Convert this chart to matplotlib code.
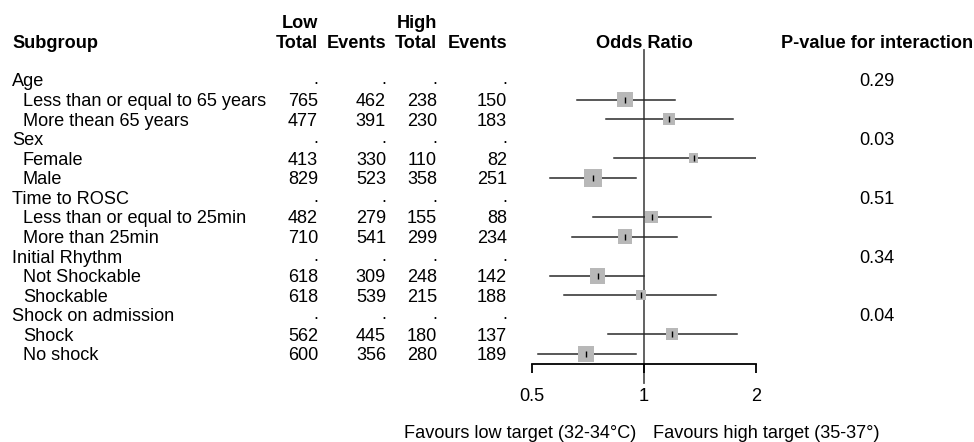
import numpy as np
import matplotlib
matplotlib.use("Agg")
import matplotlib.pyplot as plt

plt.rcParams['font.family'] = ['Liberation Sans', 'DejaVu Sans']

# data
groups = ["Age", "Sex", "Time to ROSC", "Initial Rhythm", "Shock on admission"]
p_interaction = ["0.29", "0.03", "0.51", "0.34", "0.04"]
subgroups = ["Less than or equal to 65 years", "More thean 65 years",
             "Female", "Male",
             "Less than or equal to 25min", "More than 25min",
             "Not Shockable", "Shockable",
             "Shock", "No shock"]
low_total = [765, 477, 413, 829, 482, 710, 618, 618, 562, 600]
low_events = [462, 391, 330, 523, 279, 541, 309, 539, 445, 356]
high_total = [238, 230, 110, 358, 155, 299, 248, 215, 180, 280]
high_events = [150, 183, 82, 251, 88, 234, 142, 188, 137, 189]
odds_ratio = [0.89, 1.17, 1.36, 0.73, 1.05, 0.89, 0.75, 0.98, 1.19, 0.70]
ci_low = [0.66, 0.79, 0.83, 0.56, 0.73, 0.64, 0.56, 0.61, 0.80, 0.52]
ci_high = [1.21, 1.73, 2.22, 0.95, 1.51, 1.23, 1.00, 1.56, 1.78, 0.95]

W, H = 974, 442
fig = plt.figure(figsize=(W / 100, H / 100), dpi=100)
FS = 13.1

def px(x, y):
    return x / W, 1 - y / H

row0 = 80
step = 19.57
txt_dy = 2  # text sits a little lower than the marks

def row_y(i):
    return row0 + step * i

# header
col_right = [318, 386, 437, 507]
fig.text(*px(12, 43), "Subgroup", fontsize=FS, fontweight="bold", va="center")
fig.text(*px(col_right[0], 23), "Low", fontsize=FS, fontweight="bold", va="center", ha="right")
fig.text(*px(col_right[2], 23), "High", fontsize=FS, fontweight="bold", va="center", ha="right")
for xr, lab in zip(col_right, ["Total", "Events", "Total", "Events"]):
    fig.text(*px(xr, 43), lab, fontsize=FS, fontweight="bold", va="center", ha="right")
fig.text(*px(644, 43), "Odds Ratio", fontsize=FS, fontweight="bold", va="center", ha="center")
fig.text(*px(877, 43), "P-value for interaction", fontsize=FS, fontweight="bold", va="center", ha="center")

# rows of the table
rows = []  # (row index, subgroup index)
for g, name in enumerate(groups):
    r = 3 * g
    fig.text(*px(12, row_y(r) + txt_dy), name, fontsize=FS, va="center")
    for xr in col_right:
        fig.text(*px(xr, row_y(r)), ".", fontsize=FS, va="center", ha="right")
    fig.text(*px(877, row_y(r) + txt_dy), p_interaction[g], fontsize=FS, va="center", ha="center")
    for k in range(2):
        s = 2 * g + k
        rows.append((r + 1 + k, s))
        y = row_y(r + 1 + k) + txt_dy
        fig.text(*px(23, y), subgroups[s], fontsize=FS, va="center")
        vals = [low_total[s], low_events[s], high_total[s], high_events[s]]
        for xr, v in zip(col_right, vals):
            fig.text(*px(xr, y), str(v), fontsize=FS, va="center", ha="right")

# forest axes: 0.5 at x=532, 2 at x=756, top at y=50, baseline at y=364
top_px, base_px = 50, 364
ax = fig.add_axes([532 / W, 1 - base_px / H, (756 - 532) / W, (base_px - top_px) / H])
ax.set_xscale("log")
ax.set_xlim(0.5, 2)
y_top = (top_px - row0) / step
y_base = (base_px - row0) / step
ax.set_ylim(y_base, y_top)
for sp in ["top", "left", "right"]:
    ax.spines[sp].set_visible(False)
ax.spines["bottom"].set_linewidth(1.3)
ax.set_yticks([])
ax.set_xticks([0.5, 1, 2])
ax.set_xticklabels(["0.5", "1", "2"])
ax.xaxis.set_minor_locator(matplotlib.ticker.NullLocator())
ax.tick_params(axis="x", length=6.5, width=1.3, pad=11, labelsize=FS)
ax.patch.set_alpha(0)

# reference line at OR = 1
ax.plot([1, 1], [y_top, (383 - row0) / step], color="#555555", lw=1.3,
        clip_on=False, zorder=1)

for r, s in rows:
    a, n1, c, n2 = low_events[s], low_total[s], high_events[s], high_total[s]
    w = 1 / (1 / a + 1 / (n1 - a) + 1 / c + 1 / (n2 - c))
    ax.plot([ci_low[s], ci_high[s]], [r, r], color="#2a2a2a", lw=1.1, zorder=2)
    ax.scatter([odds_ratio[s]], [r], marker="s", s=3.0 * w, color="#b8b8b8",
               edgecolors="none", zorder=3)
    ax.plot([odds_ratio[s]], [r], marker="|", ms=5, mew=1.0, color="black", zorder=4)

fig.text(*px(636, 434), "Favours low target (32-34°C)", fontsize=FS, va="center", ha="right")
fig.text(*px(653, 434), "Favours high target (35-37°)", fontsize=FS, va="center", ha="left")

fig.savefig("out.png", dpi=100, facecolor="white")
